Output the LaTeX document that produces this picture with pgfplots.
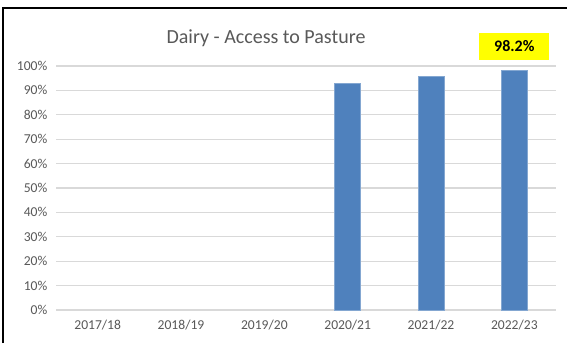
\documentclass[border=0pt]{standalone}
\usepackage{pgfplots}
\pgfplotsset{compat=1.18}
\usepackage{fontspec}
\setmainfont{Carlito}
\definecolor{barblue}{HTML}{4F81BD}
\definecolor{gridgray}{HTML}{D9D9D9}
\definecolor{txtgray}{HTML}{595959}
\definecolor{hlyellow}{HTML}{FFFF00}
\begin{document}
\begin{tikzpicture}
\useasboundingbox (0pt,0pt) rectangle (425.25pt,257.25pt);
\fill[white] (0pt,0pt) rectangle (425.25pt,257.25pt);
\draw[black,line width=0.9pt] (2.25pt,0pt) -- (2.25pt,251.25pt) -- (425.25pt,251.25pt);
\begin{axis}[
  at={(42pt,24.75pt)}, anchor=south west,
  scale only axis,
  width=375pt, height=183pt,
  xmin=-0.5, xmax=5.5, ymin=0, ymax=100,
  axis line style={draw=none},
  ytick={0,10,...,100},
  yticklabel={\pgfmathprintnumber{\tick}\%},
  yticklabel style={font=\fontsize{10.2}{12}\selectfont, text=txtgray, xshift=-3pt},
  xtick={0,1,2,3,4,5},
  xticklabels={2017/18,2018/19,2019/20,2020/21,2021/22,2022/23},
  xticklabel style={font=\fontsize{10.2}{12}\selectfont, text=txtgray, yshift=-4pt},
  xtick style={draw=none}, ytick style={draw=none},
  ymajorgrids, grid style={gridgray, line width=0.8pt},
  /pgf/number format/assume math mode=true,
  clip=false,
  title={Dairy - Access to Pasture},
  title style={font=\fontsize{15}{18}\selectfont, text=txtgray, at={(0.42,1)}, yshift=5pt},
]
\addplot[ybar, bar width=19.5pt, fill=barblue, draw=barblue!70!white, line width=0.5pt]
  coordinates {(3,93.0) (4,95.9) (5,98.2)};
\node[fill=hlyellow, minimum width=52.5pt, minimum height=20.25pt, inner sep=0pt,
  font=\fontsize{12}{14}\selectfont\bfseries] at (axis cs:5,108) {98.2\%};
\end{axis}
\end{tikzpicture}
\end{document}
